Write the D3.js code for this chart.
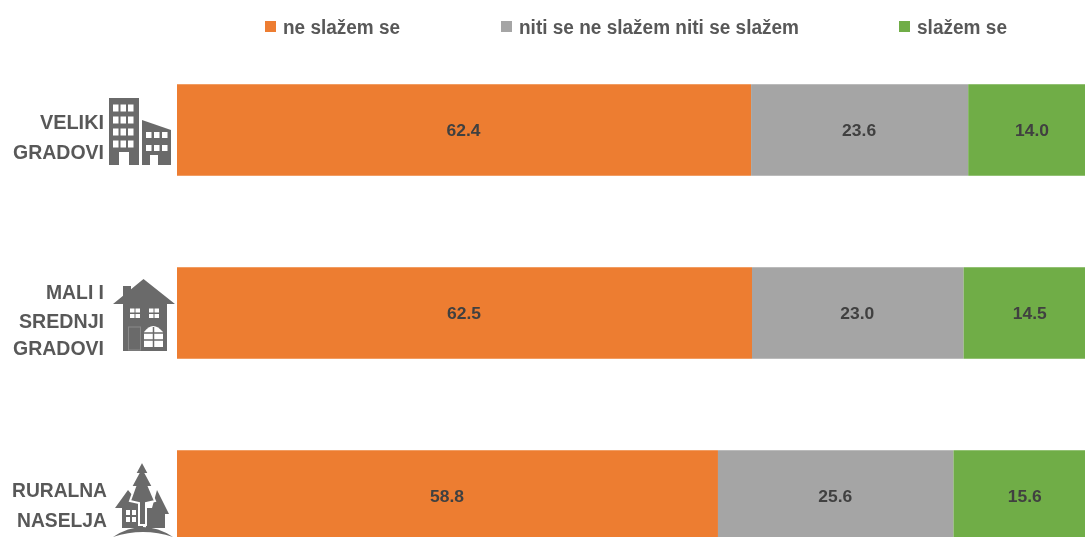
<!DOCTYPE html>
<html><head><meta charset="utf-8">
<script src="https://cdn.jsdelivr.net/npm/d3@7"></script>
<style>
html,body{margin:0;padding:0;background:#fff;overflow:hidden}
svg{display:block}
text{font-family:"Liberation Sans",Arial,sans-serif;fill:#595959;font-weight:700}
</style></head><body>
<div id="chart"></div>
<script>
const categories = ["VELIKI GRADOVI", "MALI I SREDNJI GRADOVI", "RURALNA NASELJA"];
const categoryLines = [["VELIKI","GRADOVI"],["MALI I","SREDNJI","GRADOVI"],["RURALNA","NASELJA"]];
const seriesNames = ["ne slažem se", "niti se ne slažem niti se slažem", "slažem se"];
const seriesColors = ["#ED7D31", "#A5A5A5", "#70AD47"];
const disagree = [62.4, 62.5, 58.8];
const neutral = [23.6, 23.0, 25.6];
const agree = [14.0, 14.5, 15.6];

const W = 1085, H = 537;
const svg = d3.select("#chart").append("svg").attr("width", W).attr("height", H);
const defs = svg.append("defs");
defs.append("filter").attr("id","soft").attr("x","-5%").attr("y","-5%").attr("width","110%").attr("height","110%")
  .append("feGaussianBlur").attr("stdDeviation",0.55);
const x = d3.scaleLinear().domain([0, 100]).range([177, 1097]);
const y = d3.scaleBand().domain(categories).range([38.5, 587.5]).paddingInner(0.5).paddingOuter(0.25);
const rows = categories.map((c, i) => ({c, values: [disagree[i], neutral[i], agree[i]]}));

const series = d3.stack().keys([0,1,2]).value((d, k) => d.values[k])(rows);
const g = svg.selectAll("g.s").data(series).join("g").attr("class","s").attr("fill",(d,i)=>seriesColors[i]);
g.selectAll("rect").data(d=>d).join("rect")
  .attr("x", d=>x(d[0])).attr("y", d=>y(d.data.c))
  .attr("width", d=>x(d[1])-x(d[0])).attr("height", y.bandwidth());

const texts = svg.append("g").attr("filter","url(#soft)");
series.forEach(s=>s.forEach(d=>{
  texts.append("text")
    .attr("x",(x(d[0])+x(d[1]))/2 - 0.5)
    .attr("y",y(d.data.c)+y.bandwidth()/2+6)
    .attr("text-anchor","middle").attr("font-size",17).style("fill","#404040")
    .attr("textLength",34).attr("lengthAdjust","spacingAndGlyphs")
    .text((d[1]-d[0]).toFixed(1));
}));

// legend
const legendX = [265, 501, 899], legendW = [117, 280, 90];
seriesNames.forEach((n,i)=>{
  svg.append("rect").attr("x",legendX[i]).attr("y",21).attr("width",11).attr("height",11).attr("fill",seriesColors[i]).attr("filter","url(#soft)");
  texts.append("text").attr("x",legendX[i]+18).attr("y",33.5).attr("font-size",20)
     .attr("textLength",legendW[i]).attr("lengthAdjust","spacingAndGlyphs").text(n);
});

// category labels
const labelRight = [104, 104, 107];
const lineWidths = [[64,91],[58,85,91],[95,90]];
const lineBaselines = [[129,159],[299,328,355],[497,527]];
categoryLines.forEach((lines,i)=>{
  lines.forEach((l,j)=>{
    texts.append("text").attr("x",labelRight[i]).attr("text-anchor","end")
      .attr("y", lineBaselines[i][j])
      .attr("font-size",20)
      .attr("textLength",lineWidths[i][j]).attr("lengthAdjust","spacingAndGlyphs").text(l);
  });
});

// icons (pictograms)
const ic = "#6b6b6b";
const icons = svg.append("g").attr("filter","url(#soft)");
function windows(par,xs,ys,w,h){xs.forEach(a=>ys.forEach(b=>par.append("rect").attr("x",a).attr("y",b).attr("width",w).attr("height",h).attr("fill","#fff")));}
const a = icons.append("g");
a.append("rect").attr("x",109).attr("y",98).attr("width",30).attr("height",67).attr("fill",ic);
a.append("path").attr("fill",ic).attr("d","M142 120 L171 130 V165 H142 Z");
windows(a,[113,120.5,128],[104.5,116.5,128.5,140.5],5.5,7);
windows(a,[146,154,162],[132,145],5.5,6);
a.append("rect").attr("x",119).attr("y",152).attr("width",10).attr("height",13).attr("fill","#fff");
a.append("rect").attr("x",150).attr("y",155).attr("width",8).attr("height",10).attr("fill","#fff");

const b = icons.append("g");
b.append("path").attr("fill",ic).attr("d","M113 304 L143.5 279 L175 304 H167 V351 H123 V304 Z");
b.append("path").attr("fill",ic).attr("d","M123 286 H131 V292 L123 299 Z");
windows(b,[130,135.5,149,154.5],[308.5,314],4.5,4);
b.append("rect").attr("x",128.5).attr("y",327).attr("width",12).attr("height",23).attr("fill","none").attr("stroke","#8a8a8a");
b.append("path").attr("fill","#fff").attr("d","M144 332 Q153 320 163 332 V347 H144 Z");
b.append("path").attr("stroke",ic).attr("stroke-width",1.5).attr("fill","none").attr("d","M144 333 H163 M153.5 327 V347 M144 340 H163");

const c = icons.append("g");
c.append("path").attr("fill",ic).attr("d","M115 508 L128 490 L143 508 V528 H122 V508 Z");
c.append("path").attr("fill",ic).attr("d","M157 490 L169 514 H165 V528 H146 V508 H152 Z");
c.append("path").attr("fill",ic).attr("stroke","#fff").attr("stroke-width",2)
  .attr("d","M142 461 L149 474 L146 474 L153 487 L149 487 L155 501 L146 503 V525 H139 V503 L130 501 L135 487 L131 487 L138 474 L135 474 Z");
c.append("path").attr("fill",ic).attr("d","M113 537 Q143 517 173 537 Q143 527 113 537 Z");
windows(c,[126,132],[510,517],4,5);
</script>
</body></html>
